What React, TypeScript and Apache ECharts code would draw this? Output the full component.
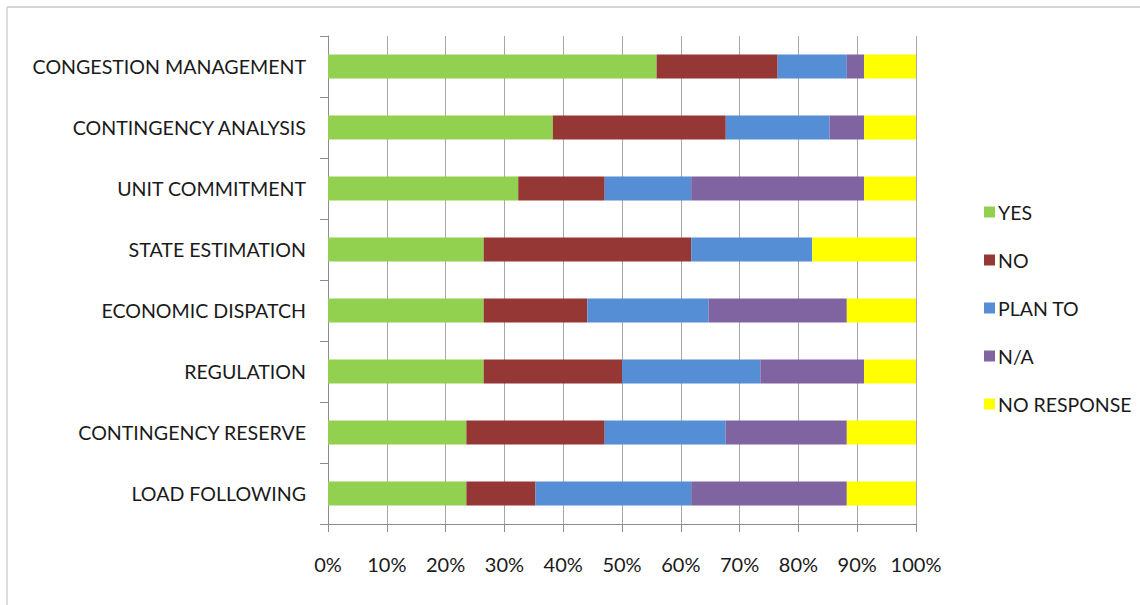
import React, { useEffect, useRef } from "react";
import * as echarts from "echarts";

const categories = [
  "CONGESTION MANAGEMENT",
  "CONTINGENCY ANALYSIS",
  "UNIT COMMITMENT",
  "STATE ESTIMATION",
  "ECONOMIC DISPATCH",
  "REGULATION",
  "CONTINGENCY RESERVE",
  "LOAD FOLLOWING",
];
const totalResponses = 34;
const yesCounts = [19, 13, 11, 9, 9, 9, 8, 8];
const noCounts = [7, 10, 5, 12, 6, 8, 8, 4];
const planToCounts = [4, 6, 5, 7, 7, 8, 7, 9];
const naCounts = [1, 2, 10, 0, 8, 6, 7, 9];
const noResponseCounts = [3, 3, 3, 6, 4, 3, 4, 4];
const xTicks = [0, 10, 20, 30, 40, 50, 60, 70, 80, 90, 100];

const seriesDefs = [
  { name: "YES", data: yesCounts, color: "#92D050" },
  { name: "NO", data: noCounts, color: "#953735" },
  { name: "PLAN TO", data: planToCounts, color: "#558ED5" },
  { name: "N/A", data: naCounts, color: "#8064A2" },
  { name: "NO RESPONSE", data: noResponseCounts, color: "#FFFF00" },
];

const FONT = "Lato";

export default function App() {
  const ref = useRef<HTMLDivElement>(null);
  useEffect(() => {
    document.body.style.margin = "0";
    const chart = echarts.init(ref.current!, null, { renderer: "svg" });
    chart.setOption({
      animation: false,
      backgroundColor: "#ffffff",
      grid: { left: 328, right: 224, top: 36, bottom: 81 },
      legend: {
        orient: "vertical",
        left: 979,
        top: 197,
        itemWidth: 11,
        itemHeight: 11,
        itemGap: 28,
        icon: "rect",
        data: seriesDefs.map((s) => s.name),
        textStyle: { fontFamily: FONT, fontSize: 19.5, color: "#1a1a1a", lineHeight: 20, padding: [0, 0, 0, -2] },
      },
      xAxis: {
        type: "value",
        min: 0,
        max: 100,
        interval: 10,
        axisLine: { show: true, lineStyle: { color: "#8c8c8c", width: 1 } },
        axisTick: { show: true, length: 8, lineStyle: { color: "#8c8c8c" } },
        splitLine: { show: true, lineStyle: { color: "#a6a6a6", width: 1 } },
        axisLabel: {
          margin: 30,
          fontFamily: FONT,
          fontSize: 20,
          color: "#1a1a1a",
          formatter: (v: number) => (xTicks.includes(v) ? v + "%" : ""),
        },
      },
      yAxis: {
        type: "category",
        inverse: true,
        data: categories,
        axisLine: { show: true, lineStyle: { color: "#8c8c8c", width: 1 } },
        axisTick: { show: true, length: 8, lineStyle: { color: "#8c8c8c" } },
        axisLabel: { margin: 22, fontFamily: FONT, fontSize: 19.6, color: "#1a1a1a" },
      },
      series: seriesDefs.map((s) => ({
        name: s.name,
        type: "bar",
        stack: "total",
        barWidth: 24,
        itemStyle: { color: s.color },
        data: s.data.map((v) => (v / totalResponses) * 100),
      })),
      graphic: [
        { type: "line", shape: { x1: 7, y1: 7, x2: 1140, y2: 7 }, style: { stroke: "#c8c8c8", lineWidth: 1.5 } },
        { type: "line", shape: { x1: 7, y1: 7, x2: 7, y2: 605 }, style: { stroke: "#d0d0d0", lineWidth: 1.5 } },
      ],
    });
    return () => chart.dispose();
  }, []);
  return <div ref={ref} style={{ width: 1140, height: 605 }} />;
}
